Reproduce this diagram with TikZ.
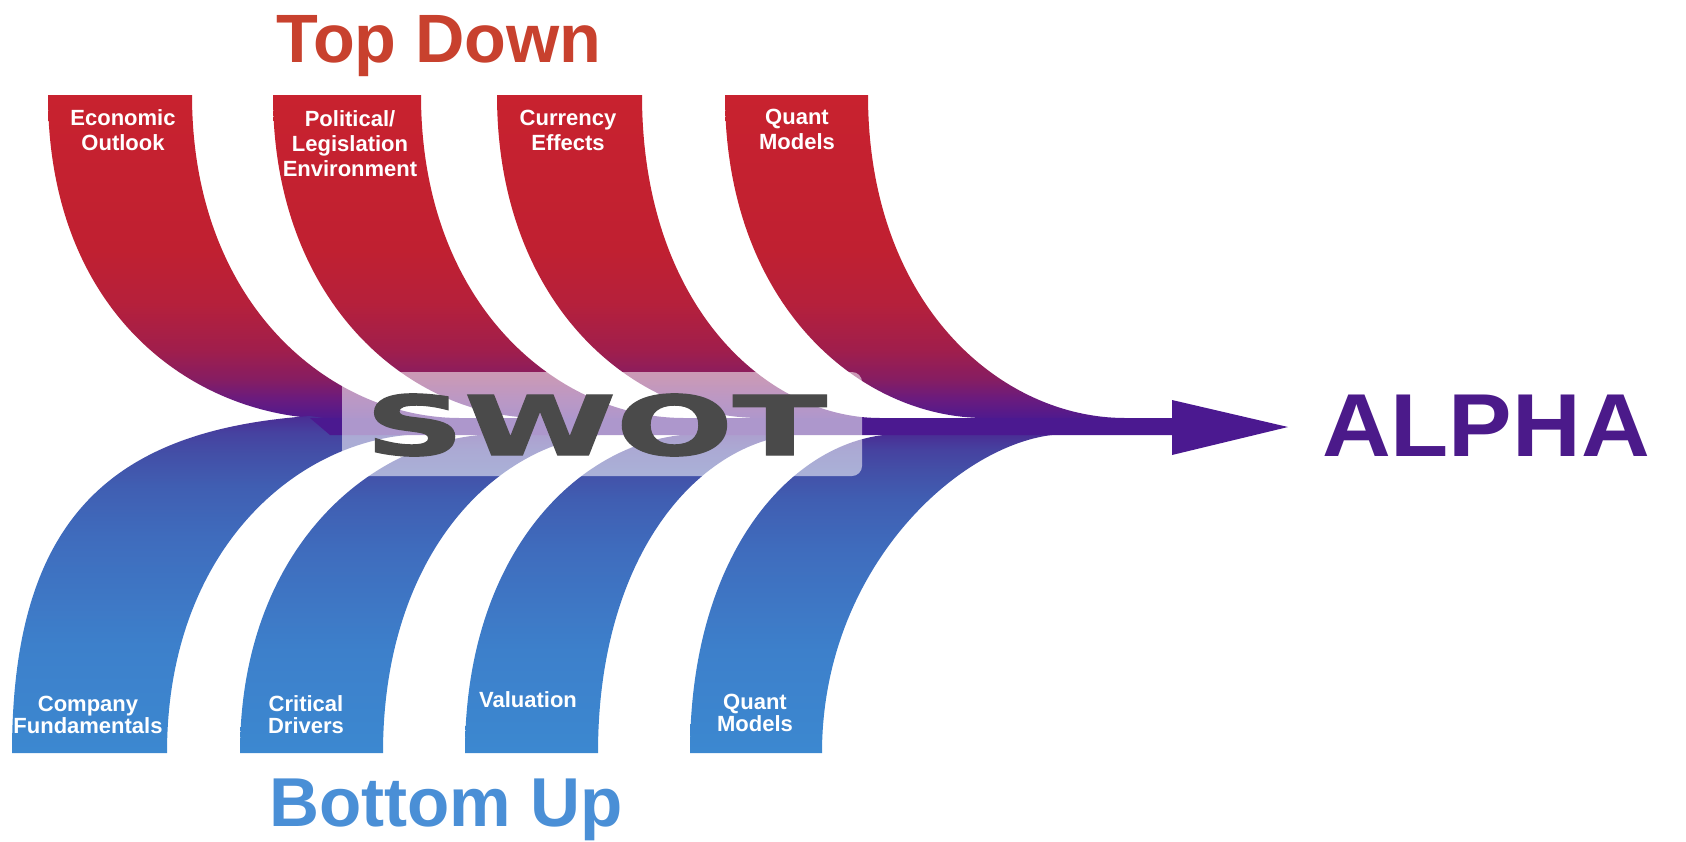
\documentclass[tikz,border=0pt]{standalone}
\usepackage{fontspec}
\setmainfont{Liberation Sans}
\newfontfamily\swotfont{DejaVu Sans}[BoldFeatures={FakeBold=1.6}]
\definecolor{tp0}{HTML}{4F1A8E}
\definecolor{tp1}{HTML}{6A1B7E}
\definecolor{tp2}{HTML}{861D62}
\definecolor{tp3}{HTML}{A01E4C}
\definecolor{tp4}{HTML}{B6203B}
\definecolor{tp5}{HTML}{C02031}
\definecolor{tp6}{HTML}{C8222F}
\definecolor{bp0}{HTML}{3C88D0}
\definecolor{bp1}{HTML}{3D80CB}
\definecolor{bp2}{HTML}{3F6CBD}
\definecolor{bp3}{HTML}{405EB2}
\definecolor{bp4}{HTML}{434FA7}
\definecolor{bp5}{HTML}{4642A0}
\definecolor{bp6}{HTML}{4A2D94}
\definecolor{shaftcol}{HTML}{4B1990}
\definecolor{topdowncol}{HTML}{C8412E}
\definecolor{bottomupcol}{HTML}{4A8FD6}
\definecolor{alphacol}{HTML}{4B1A8A}
\definecolor{swotcol}{HTML}{4A4A4A}
\pgfdeclareverticalshading{topshade}{100bp}{color(0bp)=(tp0); color(25bp)=(tp0); color(28bp)=(tp1); color(31bp)=(tp2); color(35.5bp)=(tp3); color(43bp)=(tp4); color(51bp)=(tp5); color(75bp)=(tp6); color(100bp)=(tp6)}
\pgfdeclareverticalshading{botshade}{100bp}{color(0bp)=(bp0); color(25bp)=(bp0); color(41bp)=(bp1); color(57bp)=(bp2); color(64.7bp)=(bp3); color(69.4bp)=(bp4); color(72.5bp)=(bp5); color(75bp)=(bp6); color(100bp)=(bp6)}
\newcommand\labfont{\fontsize{11}{12.5}\selectfont\bfseries}
\newcommand\blabfont{\fontsize{11}{11}\selectfont\bfseries}
\begin{document}
\begin{tikzpicture}[x=0.5pt,y=-0.5pt,
  toplab/.style={text=white, font=\labfont, anchor=base, inner sep=0pt},
  botlab/.style={text=white, font=\blabfont, anchor=base, inner sep=0pt},
  topribbon/.style={shading=topshade},
  botribbon/.style={shading=botshade},
  swotbox/.style={fill=white, fill opacity=0.55, draw=none, rounded corners=5pt, minimum width=260pt, minimum height=52pt, inner sep=0pt},
  bigtitle/.style={anchor=base, inner sep=0pt}]
\useasboundingbox (0,0) rectangle (1686,841);

% top ribbons
\shade[topribbon] (48,95) .. controls (48,305) and (182,408) .. (312,418)
   -- (460,418) .. controls (331,418) and (192,305) .. (192,95) -- cycle;
\shade[topribbon] (273,95) .. controls (273,305) and (412,418) .. (540,418)
   -- (684,418) .. controls (558,418) and (421,305) .. (421,95) -- cycle;
\shade[topribbon] (497,95) .. controls (497,305) and (634,418) .. (760,418)
   -- (880,418) .. controls (766,418) and (642,305) .. (642,95) -- cycle;
\shade[topribbon] (725,95) .. controls (725,305) and (860,418) .. (985,418)
   -- (1125,418) .. controls (1001,418) and (868,305) .. (868,95) -- cycle;

% bottom ribbons
\shade[botribbon] (12,753) .. controls (12,520) and (110,430) .. (310,416)
   -- (427,434) .. controls (302,434) and (167,546) .. (167,753) -- cycle;
\shade[botribbon] (240,753) .. controls (240,546) and (375,434) .. (500,434)
   -- (618,434) .. controls (505,434) and (383,546) .. (383,753) -- cycle;
\shade[botribbon] (465,753) .. controls (465,546) and (587,434) .. (700,434)
   -- (808,434) .. controls (707,434) and (598,546) .. (598,753) -- cycle;
\shade[botribbon] (690,753) .. controls (690,546) and (799,434) .. (900,434)
   -- (1067,434) .. controls (969,434) and (822,562) .. (822,753) -- cycle;

% shaft and arrow head
\coordinate (tail) at (310,418);
\coordinate (headtop) at (1172,400);
\coordinate (headtip) at (1288,427);
\coordinate (headbot) at (1172,455);
\fill[shaftcol] (tail) -- (1172,418) -- (headtop) -- (headtip) -- (headbot) -- (1172,435) -- (330,435) -- cycle;

% SWOT box
\node[swotbox] (swotbox) at (602,424) {};
\node[bigtitle, text=swotcol, font=\swotfont\bfseries\fontsize{41.2}{45}\selectfont] (swot) at (596,455) {\scalebox{1.67}[1]{SWOT}};

% titles
\node[bigtitle, text=topdowncol, font=\bfseries\fontsize{34.2}{40}\selectfont] (topdown) at (439,62) {Top Down};
\node[bigtitle, text=bottomupcol, font=\bfseries\fontsize{34.6}{40}\selectfont] (bottomup) at (446,826) {Bottom Up};
\node[bigtitle, text=alphacol, font=\bfseries\fontsize{44.7}{50}\selectfont] (alpha) at (1486,456) {\scalebox{1.065}[1]{ALPHA}};

% top labels
\node[toplab] (econ) at (123,125) {\begin{tabular}[t]{@{}c@{}}Economic\\Outlook\end{tabular}};
\node[toplab] (polit) at (350,126) {\begin{tabular}[t]{@{}c@{}}Political/\\Legislation\\Environment\end{tabular}};
\node[toplab] (curr) at (568,125) {\begin{tabular}[t]{@{}c@{}}Currency\\Effects\end{tabular}};
\node[toplab] (quanttop) at (797,124) {\begin{tabular}[t]{@{}c@{}}Quant\\Models\end{tabular}};

% bottom labels
\node[botlab] (comp) at (88,711) {\begin{tabular}[t]{@{}c@{}}Company\\Fundamentals\end{tabular}};
\node[botlab] (crit) at (306,711) {\begin{tabular}[t]{@{}c@{}}Critical\\Drivers\end{tabular}};
\node[botlab] (valu) at (528,707) {Valuation};
\node[botlab] (quantbot) at (755,709) {\begin{tabular}[t]{@{}c@{}}Quant\\Models\end{tabular}};
\end{tikzpicture}
\end{document}
